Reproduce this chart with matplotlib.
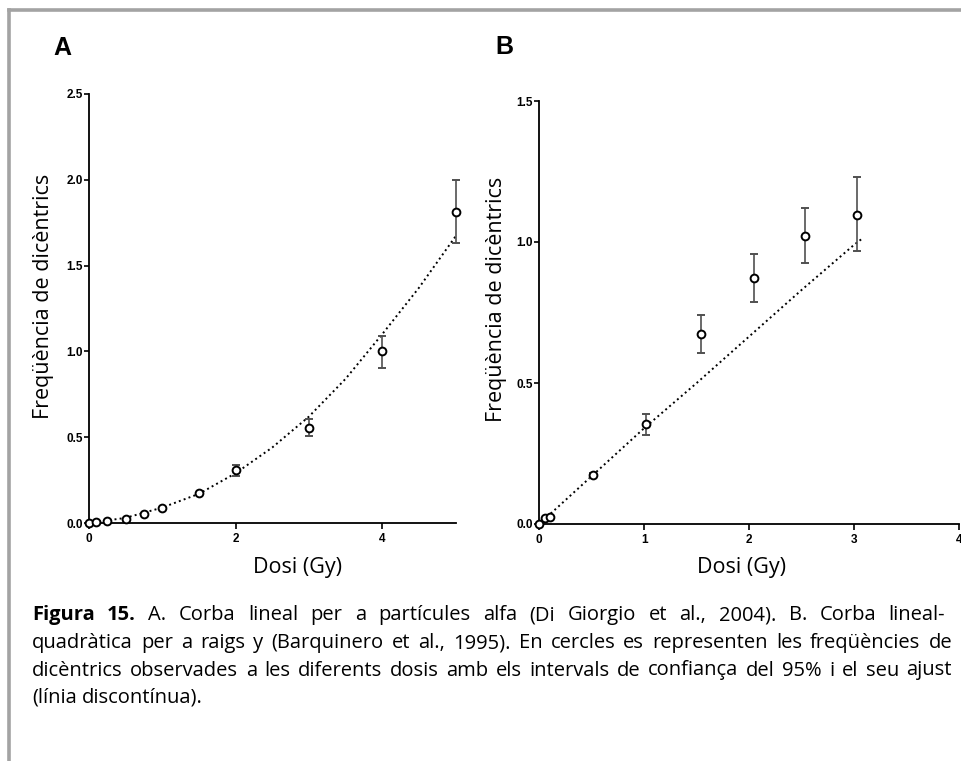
import matplotlib
matplotlib.use("Agg")
import matplotlib.pyplot as plt
from matplotlib.lines import Line2D

# ---------------- data ----------------
dose_a = [0, 0.1, 0.25, 0.5, 0.75, 1.0, 1.5, 2, 3, 4, 5]
freq_a = [0, 0.003, 0.01, 0.023, 0.05, 0.089, 0.173, 0.307, 0.555, 1.0, 1.81]
err_lo_a = [0, 0, 0, 0, 0, 0, 0, 0.033, 0.048, 0.095, 0.18]
err_hi_a = [0, 0, 0, 0, 0, 0, 0, 0.033, 0.053, 0.09, 0.19]
fit_dose_a = [0, 0.5, 1, 1.5, 2, 2.5, 3, 3.5, 4, 4.5, 5]
fit_a = [0, 0.03, 0.09, 0.17, 0.29, 0.44, 0.62, 0.84, 1.10, 1.37, 1.67]

dose_b = [0, 0.05, 0.1, 0.51, 1.02, 1.54, 2.05, 2.53, 3.03]
freq_b = [0, 0.02, 0.025, 0.172, 0.353, 0.672, 0.872, 1.023, 1.097]
err_lo_b = [0, 0, 0, 0.008, 0.036, 0.067, 0.086, 0.099, 0.13]
err_hi_b = [0, 0, 0, 0.008, 0.036, 0.068, 0.087, 0.099, 0.133]
fit_dose_b = [0, 0.5, 1, 1.5, 2, 2.5, 3, 3.07]
fit_b = [0, 0.17, 0.34, 0.50, 0.665, 0.83, 0.99, 1.01]

xticks_a = [0, 2, 4]
yticks_a = [0.0, 0.5, 1.0, 1.5, 2.0, 2.5]
xticks_b = [0, 1, 2, 3, 4]
yticks_b = [0.0, 0.5, 1.0, 1.5]

ylabel = "Freqüència de dicèntrics"
xlabel = "Dosi (Gy)"

caption_lines = [
    [("Figura", True), ("15.", True), ("A.", False), ("Corba", False), ("lineal", False),
     ("per", False), ("a", False), ("partícules", False), ("alfa", False), ("(Di", False),
     ("Giorgio", False), ("et", False), ("al.,", False), ("2004).", False), ("B.", False),
     ("Corba", False), ("lineal-", False)],
    [(w, False) for w in "quadràtica per a raigs y (Barquinero et al., 1995). En cercles es representen les freqüències de".split()],
    [(w, False) for w in "dicèntrics observades a les diferents dosis amb els intervals de confiança del 95% i el seu ajust".split()],
    [(w, False) for w in "(línia discontínua).".split()],
]

# ---------------- figure ----------------
W, H = 962, 761
fig = plt.figure(figsize=(W / 100, H / 100), dpi=100)
fig.patch.set_facecolor("white")

LABEL_FONT = "Open Sans"
TICK_FONT = "Liberation Sans"


def style_axis(ax, xlim, ylim, xt, yt):
    ax.set_xlim(*xlim)
    ax.set_ylim(*ylim)
    ax.set_xticks(xt)
    ax.set_yticks(yt)
    ax.set_xticklabels([f"{v:g}" for v in xt])
    ax.set_yticklabels([f"{v:.1f}" for v in yt])
    for s in ("top", "right"):
        ax.spines[s].set_visible(False)
    for s in ("left", "bottom"):
        ax.spines[s].set_linewidth(1.3)
    ax.tick_params(axis="x", direction="out", length=4, width=1.2, pad=3.5)
    ax.tick_params(axis="y", direction="out", length=3.4, width=1.2, pad=1.2)
    for lab in ax.get_xticklabels() + ax.get_yticklabels():
        lab.set_fontfamily(TICK_FONT)
        lab.set_fontweight("bold")
        lab.set_fontsize(8.5)


def plot_panel(ax, x, y, lo, hi, fx, fy):
    ax.plot(fx, fy, linestyle=":", color="black", lw=1.4, zorder=2)
    ax.errorbar(x, y, yerr=[lo, hi], fmt="o", ms=5.6, mfc="white", mec="black",
                mew=1.4, ecolor="#505050", elinewidth=1.2, capsize=3, capthick=1.2,
                zorder=3, clip_on=False)


axA = fig.add_axes([89 / W, 238 / H, 366.5 / W, 429 / H])
plot_panel(axA, dose_a, freq_a, err_lo_a, err_hi_a, fit_dose_a, fit_a)
style_axis(axA, (0, 5), (0, 2.5), xticks_a, yticks_a)
axA.set_ylabel(ylabel, family=LABEL_FONT, fontsize=15.5, va="center", ha="center")
axA.yaxis.set_label_coords(-0.1228, 0.529)
axA.set_xlabel(xlabel, family=LABEL_FONT, fontsize=15.5, va="center", ha="center")
axA.xaxis.set_label_coords(0.570, -0.1026)

axB = fig.add_axes([539.3 / W, 237 / H, 419.7 / W, 423 / H])
plot_panel(axB, dose_b, freq_b, err_lo_b, err_hi_b, fit_dose_b, fit_b)
style_axis(axB, (0, 4), (0, 1.5), xticks_b, yticks_b)
axB.set_ylabel(ylabel, family=LABEL_FONT, fontsize=15.5, va="center", ha="center")
axB.yaxis.set_label_coords(-0.103, 0.532)
axB.set_xlabel(xlabel, family=LABEL_FONT, fontsize=15.5, va="center", ha="center")
axB.xaxis.set_label_coords(0.482, -0.1017)

# panel letters
fig.text(53 / W, 1 - 55 / H, "A", family="Liberation Sans", fontweight="bold",
         fontsize=18, ha="left", va="baseline")
fig.text(495 / W, 1 - 54 / H, "B", family="Liberation Sans", fontweight="bold",
         fontsize=18, ha="left", va="baseline")

# border lines
fig.add_artist(Line2D([8.8 / W, 1], [1 - 10.3 / H] * 2, color="#a3a3a3", lw=2.6))
fig.add_artist(Line2D([8.8 / W] * 2, [0, 1 - 10.3 / H], color="#a3a3a3", lw=2.6))

# caption (justified)
renderer = fig.canvas.get_renderer()
CAP_SIZE = 14.5
x_left = 32
right_edges = [945, 952, 952, None]
baselines = [620, 648, 675.5, 703]


def space_width(size):
    t1 = fig.text(0, 0, "a a", family=LABEL_FONT, fontsize=size)
    t2 = fig.text(0, 0, "aa", family=LABEL_FONT, fontsize=size)
    w = t1.get_window_extent(renderer).width - t2.get_window_extent(renderer).width
    t1.remove()
    t2.remove()
    return w


sp = space_width(CAP_SIZE)
for words, xr, yb in zip(caption_lines, right_edges, baselines):
    texts = [fig.text(0, 1 - yb / H, w, family=LABEL_FONT, fontsize=CAP_SIZE,
                      fontweight="bold" if b else "normal", ha="left", va="baseline")
             for w, b in words]
    widths = [t.get_window_extent(renderer).width for t in texts]
    if xr is not None and len(texts) > 1:
        gap = (xr - x_left - sum(widths)) / (len(texts) - 1)
    else:
        gap = sp
    x = x_left
    for t, wd in zip(texts, widths):
        t.set_x(x / W)
        x += wd + gap

fig.savefig("out.png", dpi=100, facecolor="white")
